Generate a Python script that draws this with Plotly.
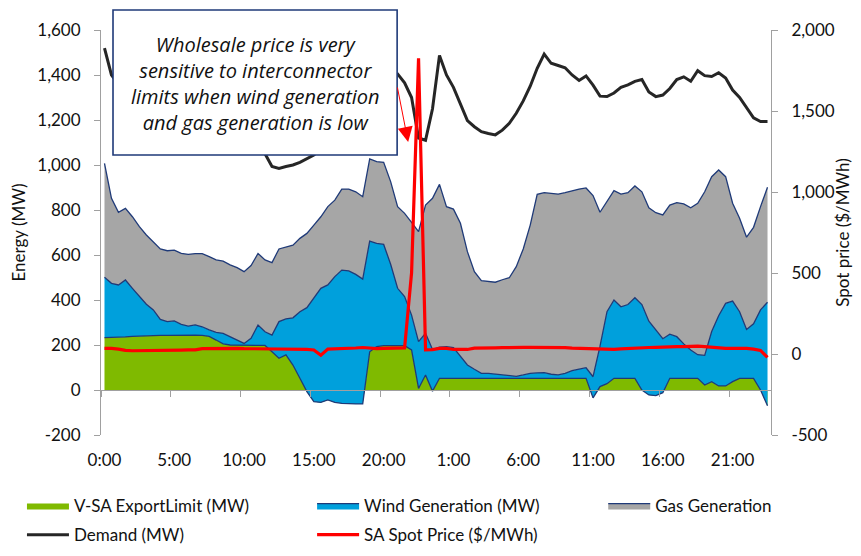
import plotly.graph_objects as go

# ---- data (half-hourly slots over two days, slot 0 = 0:00) ----
slots = list(range(96))
tick_slots = [0, 10, 20, 30, 40, 50, 60, 70, 80, 90]
tick_labels = ["0:00", "5:00", "10:00", "15:00", "20:00",
               "1:00", "6:00", "11:00", "16:00", "21:00"]
energy_ticks = [-200, 0, 200, 400, 600, 800, 1000, 1200, 1400, 1600]
energy_tick_labels = ["-200", "0", "200", "400", "600", "800",
                      "1,000", "1,200", "1,400", "1,600"]
price_ticks = [-500, 0, 500, 1000, 1500, 2000]
price_tick_labels = ["-500", "0", "500", "1,000", "1,500", "2,000"]

export_limit = [233, 233, 234, 236, 238, 240, 241, 242, 243, 243,
                244, 244, 244, 244, 243, 238, 222, 205, 200, 200,
                200, 200, 200, 198, 170, 141, 156, 111, 52, -7,
                -52, -55, -44, -55, -59, -62, -62, -62, 170, 193,
                197, 197, 197, 197, 178, 7, 67, -5,
                52, 52, 52, 52, 52, 52, 52, 52, 52, 52,
                52, 52, 52, 52, 52, 52, 52, 52, 52, 52,
                52, 52, -35, 15, 28, 52, 52, 52, 52, 0,
                -22, -25, -12, 52, 52, 52, 52, 52, 22, 37,
                18, 18, 37, 52, 52, 52, 0, -70]

wind = [268, 241, 233, 253, 214, 175, 140, 114, 71, 61,
        63, 48, 40, 45, 38, 29, 34, 47, 37, 25,
        7, 30, 89, 61, 74, 163, 160, 210, 296, 373,
        459, 507, 511, 559, 592, 591, 576, 555, 492, 459,
        450, 362, 255, 218, 155, 208, 185, 185,
        138, 141, 136, 96, 59, 40, 22, 22, 18, 15,
        12, 9, 15, 22, 24, 25, 18, 15, 22, 34,
        41, 47, 94, 180, 320, 348, 318, 328, 358, 380,
        328, 294, 240, 196, 185, 153, 126, 105, 132, 223,
        312, 367, 358, 296, 217, 242, 356, 460]

gas = [506, 378, 323, 318, 318, 311, 308, 303, 313, 315,
       315, 315, 319, 317, 325, 326, 322, 321, 319, 319,
       319, 323, 318, 319, 322, 323, 321, 323, 326, 330,
       326, 318, 348, 340, 360, 364, 367, 366, 365, 363,
       365, 367, 363, 370, 412, 489, 570, 672,
       724, 622, 616, 593, 504, 434, 412, 410, 409, 423,
       435, 487, 560, 659, 794, 800, 804, 804, 803, 800,
       800, 799, 805, 595, 489, 486, 501, 497, 497, 501,
       504, 519, 550, 574, 596, 622, 632, 673, 727, 688,
       648, 563, 435, 415, 410, 429, 459, 511]

demand = [1519, 1400, 1360, 1330, 1300, 1270, 1240, 1210, 1190, 1170,
          1160, 1150, 1150, 1155, 1165, 1175, 1180, 1175, 1160, 1140,
          1120, 1100, 1075, 1050, 993, 985, 993, 1000, 1012, 1028,
          1044, 1070, 1100, 1135, 1170, 1210, 1250, 1290, 1330, 1365,
          1390, 1405, 1405, 1365, 1300, 1120, 1110, 1250,
          1487, 1400, 1345, 1272, 1197, 1170, 1148, 1140, 1134, 1155,
          1185, 1230, 1285, 1350, 1430, 1493, 1452, 1442, 1432, 1400,
          1376, 1396, 1355, 1306, 1304, 1320, 1345, 1356, 1372, 1380,
          1325, 1304, 1311, 1340, 1380, 1392, 1372, 1419, 1397, 1393,
          1410, 1387, 1333, 1300, 1255, 1210, 1193, 1193]

spot_price = [35, 35, 30, 22, 20, 20, 21, 21, 22, 22,
              23, 24, 25, 26, 33, 34, 34, 33, 35, 35,
              33, 33, 32, 32, 31, 30, 30, 30, 30, 29,
              25, -8, 30, 31, 33, 35, 37, 40, 35, 33,
              35, 36, 37, 38, 500, 1825, 25, 27,
              35, 35, 28, 26, 28, 36, 38, 38, 38, 39,
              41, 41, 41, 41, 41, 41, 41, 41, 39, 36,
              34, 33, 33, 32, 31, 29, 32, 35, 37, 39,
              40, 41, 41, 43, 45, 46, 48, 49, 46, 41,
              36, 35, 35, 35, 35, 30, 22, -21]

# ---- styles ----
FONT = "Lato, 'Open Sans', sans-serif"
NAVY = "#1F3A78"
GREEN = "#7FBA00"
BLUE = "#00A0DC"
GREY = "#A6A6A6"
AXIS = "#A0A0A0"
TXT = "#111111"

# page has an 8px body margin; figure is sized to fit inside the window
W, H = 845, 540
PLOT_L, PLOT_R, PLOT_T, PLOT_B = 101, 770.7, 30, 435   # page pixels
OFF = 8
PW, PH = PLOT_R - PLOT_L, PLOT_B - PLOT_T
M_L, M_T = PLOT_L - OFF, PLOT_T - OFF
M_R, M_B = W - (PLOT_R - OFF), H - (PLOT_B - OFF)


def px_x(px):
    return (px - PLOT_L) / PW


def px_y(py):
    return (PLOT_B - py) / PH


fig = go.Figure()

fig.add_trace(go.Scatter(
    x=slots, y=export_limit, name="V-SA ExportLimit (MW)", mode="lines",
    stackgroup="gen", line=dict(width=0, color=GREEN), fillcolor=GREEN,
    legend="legend", legendgroup="a", hoverinfo="skip"))
fig.add_trace(go.Scatter(
    x=slots, y=wind, name="Wind Generation (MW)", mode="lines",
    stackgroup="gen", line=dict(width=1.3, color=NAVY), fillcolor=BLUE,
    legend="legend2", legendgroup="a", hoverinfo="skip"))
fig.add_trace(go.Scatter(
    x=slots, y=gas, name="Gas Generation", mode="lines",
    stackgroup="gen", line=dict(width=1.3, color=NAVY), fillcolor=GREY,
    legend="legend3", legendgroup="a", hoverinfo="skip"))
# lower edge of the wind band (top of the export-limit band)
fig.add_trace(go.Scatter(
    x=slots, y=export_limit, mode="lines", line=dict(width=1.3, color=NAVY),
    showlegend=False, hoverinfo="skip"))
fig.add_trace(go.Scatter(
    x=slots, y=demand, name="Demand (MW)", mode="lines",
    line=dict(width=3, color="#262626"),
    legend="legend", legendgroup="b", hoverinfo="skip"))
fig.add_trace(go.Scatter(
    x=slots, y=spot_price, name="SA Spot Price ($/MWh)", mode="lines",
    yaxis="y2", line=dict(width=3.2, color="#FF0000"),
    legend="legend2", legendgroup="b", hoverinfo="skip"))
# invisible carrier so the category axis drawn at the zero line is rendered
fig.add_trace(go.Scatter(
    x=slots, y=export_limit, xaxis="x2", mode="lines",
    line=dict(width=0), opacity=0, showlegend=False, hoverinfo="skip"))

tickfont = dict(family=FONT, size=17, color=TXT)

legend_common = dict(
    orientation="v", traceorder="grouped", tracegroupgap=4,
    font=dict(family=FONT, size=17, color=TXT),
    itemwidth=42, bgcolor="rgba(0,0,0,0)", borderwidth=0,
    xanchor="left", yanchor="top", y=px_y(488))

fig.update_layout(
    width=W, height=H,
    margin=dict(l=M_L, r=M_R, t=M_T, b=M_B, autoexpand=False),
    paper_bgcolor="white", plot_bgcolor="white",
    font=dict(family=FONT, size=17, color=TXT),
    showlegend=True,
    legend=dict(legend_common, x=px_x(22)),
    legend2=dict(legend_common, x=px_x(312)),
    legend3=dict(legend_common, x=px_x(603)),
    xaxis=dict(
        range=[-0.5, 95.5], tickmode="array", tickvals=tick_slots,
        ticktext=tick_labels, ticks="", showline=False, showgrid=False,
        zeroline=False, tickfont=tickfont, ticklabelstandoff=13,
        automargin=False),
    xaxis2=dict(
        overlaying="x", anchor="free", position=200 / 1800,
        range=[-0.5, 95.5], tickmode="array",
        tickvals=[t - 0.5 for t in tick_slots], showticklabels=False,
        ticks="outside", ticklen=6, tickcolor=AXIS, showline=True,
        linecolor=AXIS, linewidth=1, showgrid=False, zeroline=False,
        layer="above traces"),
    yaxis=dict(
        range=[-200, 1600], tickmode="array", tickvals=energy_ticks,
        ticktext=energy_tick_labels, ticks="outside",
        ticklen=6, tickcolor=AXIS, showline=True, linecolor=AXIS,
        linewidth=1, showgrid=False, zeroline=False, tickfont=tickfont,
        ticklabelstandoff=10, automargin=False,
        title=dict(text="Energy (MW)", font=dict(family=FONT, size=17),
                   standoff=10)),
    yaxis2=dict(
        overlaying="y", side="right", range=[-500, 2000],
        tickmode="array", tickvals=price_ticks, ticktext=price_tick_labels,
        ticks="outside", ticklen=6, tickcolor=AXIS,
        showline=True, linecolor=AXIS, linewidth=1, showgrid=False,
        zeroline=False, tickfont=tickfont, ticklabelstandoff=10,
        automargin=False,
        title=dict(text="Spot price ($/MWh)", font=dict(family=FONT, size=17),
                   standoff=14)),
)

# callout box with arrow
fig.add_shape(type="rect", xref="paper", yref="paper",
              x0=px_x(113), x1=px_x(397), y0=px_y(155), y1=px_y(10),
              fillcolor="white", line=dict(color=NAVY, width=1.6),
              layer="above")
fig.add_annotation(
    xref="paper", yref="paper", x=px_x(255), y=px_y(84),
    text=("Wholesale price is very<br>sensitive to interconnector<br>"
          "limits when wind generation<br>and gas generation is low"),
    showarrow=False,
    font=dict(family="'Open Sans', Lato, sans-serif", size=20, color=TXT,
              style="italic"),
    align="center", xanchor="center", yanchor="middle")
fig.add_annotation(
    xref="paper", yref="paper", x=px_x(408), y=px_y(142), text="",
    showarrow=True, ax=-11, ay=-56, arrowhead=2, arrowsize=3,
    arrowwidth=1, arrowcolor="#FF0000", standoff=0)

fig.write_html("out.html")
